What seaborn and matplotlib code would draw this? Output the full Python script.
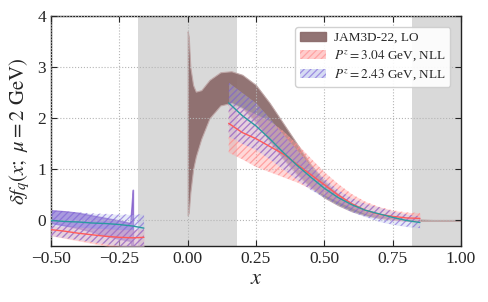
import numpy as np
import pandas as pd
import matplotlib
matplotlib.use("Agg")
import matplotlib.pyplot as plt
import seaborn as sns
from matplotlib.patches import Patch

# ---------------- data ----------------
# JAM3D-22, LO band
jam_x  = [0.0, 0.004, 0.01, 0.02, 0.03, 0.05, 0.08, 0.12, 0.16, 0.20, 0.25, 0.30, 0.35, 0.40,
          0.45, 0.50, 0.55, 0.60, 0.65, 0.70, 0.75, 0.80, 0.85, 0.90, 1.00]
jam_lo = [0.10, 0.15, 0.55, 1.00, 1.25, 1.60, 2.00, 2.25, 2.30, 2.20, 1.92, 1.55, 1.20, 0.90,
          0.65, 0.45, 0.30, 0.18, 0.10, 0.05, 0.02, 0.00, -0.01, -0.01, -0.01]
jam_hi = [3.70, 3.60, 3.00, 2.65, 2.52, 2.55, 2.75, 2.90, 2.92, 2.85, 2.65, 2.30, 1.90, 1.50,
          1.10, 0.77, 0.52, 0.33, 0.19, 0.11, 0.06, 0.03, 0.02, 0.01, 0.01]

# P^z = 3.04 GeV, NLL (positive x)
p304_x   = [0.15, 0.20, 0.25, 0.30, 0.35, 0.40, 0.45, 0.50, 0.55, 0.60, 0.65, 0.70, 0.75, 0.80, 0.85]
p304_mid = [1.90, 1.72, 1.60, 1.45, 1.30, 1.10, 0.90, 0.70, 0.50, 0.33, 0.20, 0.12, 0.08, 0.05, 0.04]
p304_lo  = [1.33, 1.20, 1.05, 0.95, 0.85, 0.75, 0.62, 0.50, 0.37, 0.25, 0.13, 0.05, 0.00, -0.02, -0.03]
p304_hi  = [2.30, 2.20, 2.08, 1.95, 1.75, 1.50, 1.22, 0.95, 0.72, 0.52, 0.37, 0.27, 0.20, 0.16, 0.15]
# P^z = 3.04 GeV, NLL (negative x)
p304n_x   = [-0.50, -0.45, -0.40, -0.35, -0.30, -0.25, -0.20, -0.16]
p304n_mid = [-0.18, -0.21, -0.25, -0.28, -0.31, -0.33, -0.34, -0.33]
p304n_lo  = [-0.30, -0.35, -0.40, -0.45, -0.50, -0.54, -0.56, -0.56]
p304n_hi  = [-0.10, -0.12, -0.13, -0.15, -0.16, -0.18, -0.18, -0.17]

# P^z = 2.43 GeV, NLL (positive x)
p243_x   = [0.15, 0.20, 0.25, 0.30, 0.35, 0.40, 0.45, 0.50, 0.55, 0.60, 0.65, 0.70, 0.75, 0.80, 0.85]
p243_mid = [2.30, 2.05, 1.85, 1.60, 1.33, 1.08, 0.85, 0.63, 0.45, 0.31, 0.20, 0.13, 0.06, 0.00, -0.04]
p243_lo  = [1.65, 1.50, 1.38, 1.20, 1.00, 0.80, 0.60, 0.45, 0.30, 0.17, 0.07, -0.02, -0.08, -0.12, -0.15]
p243_hi  = [2.70, 2.50, 2.30, 2.00, 1.68, 1.38, 1.08, 0.82, 0.60, 0.44, 0.33, 0.26, 0.18, 0.12, 0.08]
# P^z = 2.43 GeV, NLL (negative x)
p243n_x   = [-0.50, -0.45, -0.40, -0.35, -0.30, -0.25, -0.20, -0.16]
p243n_mid = [0.00, -0.02, -0.03, -0.05, -0.06, -0.08, -0.11, -0.15]
p243n_lo  = [-0.30, -0.34, -0.38, -0.42, -0.46, -0.50, -0.54, -0.56]
p243n_hi  = [0.20, 0.18, 0.16, 0.14, 0.13, 0.12, 0.12, 0.12]

# unlabeled violet band at negative x (with spike near x=-0.2)
vio_x  = [-0.50, -0.45, -0.40, -0.35, -0.30, -0.25, -0.21, -0.201, -0.200]
vio_lo = [-0.05, -0.10, -0.15, -0.22, -0.30, -0.36, -0.40, -0.60, -0.60]
vio_hi = [0.20, 0.18, 0.15, 0.10, 0.05, 0.00, -0.05, 0.60, 0.60]

# grey excluded regions
grey_regions = [(-0.18, 0.18), (0.82, 1.00)]

# ---------------- style ----------------
sns.set_style("ticks")
plt.rcParams["font.family"] = ["Liberation Serif", "DejaVu Serif"]
plt.rcParams["mathtext.fontset"] = "stix"
plt.rcParams["hatch.linewidth"] = 0.9

fig = plt.figure(figsize=(4.88, 3.02), dpi=100)
ax = fig.add_axes([0.1045, 0.1854, 0.840, 0.7616])

for a, b in grey_regions:
    ax.axvspan(a, b, color="#d9d9d9", lw=0, zorder=0)

brown = "#8c6c6c"
pink_fill = "#ffaaaa"
pink_hatch = "#ff8a8a"
blue_fill = "#b9c3ec"
blue_hatch = "#7a5ad8"
HATCH = "/////"

# JAM band
ax.fill_between(jam_x, jam_lo, jam_hi, facecolor=brown, edgecolor="#c0a8a8",
                lw=0.8, alpha=0.95, zorder=2)

# violet band
ax.fill_between(vio_x, vio_lo, vio_hi, facecolor="#7a52c8", edgecolor="#7a52c8",
                lw=1.0, alpha=0.7, zorder=2)

# pink band
for xs, lo, hi in [(p304_x, p304_lo, p304_hi), (p304n_x, p304n_lo, p304n_hi)]:
    ax.fill_between(xs, lo, hi, facecolor=pink_fill, alpha=0.45, lw=0, zorder=3)
    ax.fill_between(xs, lo, hi, facecolor="none", edgecolor=pink_hatch, hatch=HATCH,
                    lw=0, alpha=0.7, zorder=3)

# blue band
for xs, lo, hi in [(p243_x, p243_lo, p243_hi), (p243n_x, p243n_lo, p243n_hi)]:
    ax.fill_between(xs, lo, hi, facecolor=blue_fill, alpha=0.35, lw=0, zorder=4)
    ax.fill_between(xs, lo, hi, facecolor="none", edgecolor=blue_hatch, hatch=HATCH,
                    lw=0, alpha=0.6, zorder=4)

# central lines
for xs, ys, c in [(p304_x, p304_mid, "#ff5a5a"), (p304n_x, p304n_mid, "#ff5a5a"),
                  (p243_x, p243_mid, "#2a9aa0"), (p243n_x, p243n_mid, "#2a9aa0")]:
    df = pd.DataFrame({"x": xs, "y": ys})
    sns.lineplot(data=df, x="x", y="y", ax=ax, color=c, lw=1.0, zorder=5)

ax.set_xlim(-0.5, 1.0)
ax.set_ylim(-0.5, 4.0)
ax.set_xticks([-0.5, -0.25, 0.0, 0.25, 0.5, 0.75, 1.0])
ax.set_xticklabels(["\u22120.50", "\u22120.25", "0.00", "0.25", "0.50", "0.75", "1.00"])
ax.set_yticks([0, 1, 2, 3, 4])
ax.tick_params(direction="in", top=True, right=True, labelsize=12.5, length=4, width=0.8)
ax.grid(True, ls=":", color="#b5b5b5", lw=0.8, zorder=1)
ax.set_axisbelow(False)
for s in ax.spines.values():
    s.set_linewidth(1.0)
    s.set_color("#222222")

ax.set_xlabel("$x$", fontsize=16, labelpad=2)
ax.set_ylabel(r"$\delta f_q(x;\ \mu = 2\ \mathrm{GeV})$", fontsize=15, labelpad=4)

handles = [
    Patch(facecolor=brown, edgecolor=brown, alpha=0.95),
    Patch(facecolor=pink_fill, edgecolor=pink_hatch, hatch=HATCH, alpha=0.6, lw=0),
    Patch(facecolor=blue_fill, edgecolor=blue_hatch, hatch=HATCH, alpha=0.6, lw=0),
]
labels = ["JAM3D-22, LO", r"$P^z = 3.04$ GeV, NLL", r"$P^z = 2.43$ GeV, NLL"]
leg = ax.legend(handles, labels, loc="upper right", fontsize=9.5, frameon=True,
                framealpha=0.9, edgecolor="#cccccc", fancybox=True,
                bbox_to_anchor=(0.99, 0.98), handlelength=2.0, handletextpad=0.6,
                borderpad=0.35, labelspacing=0.35)
leg.set_zorder(10)

fig.savefig("out.png", dpi=100)
